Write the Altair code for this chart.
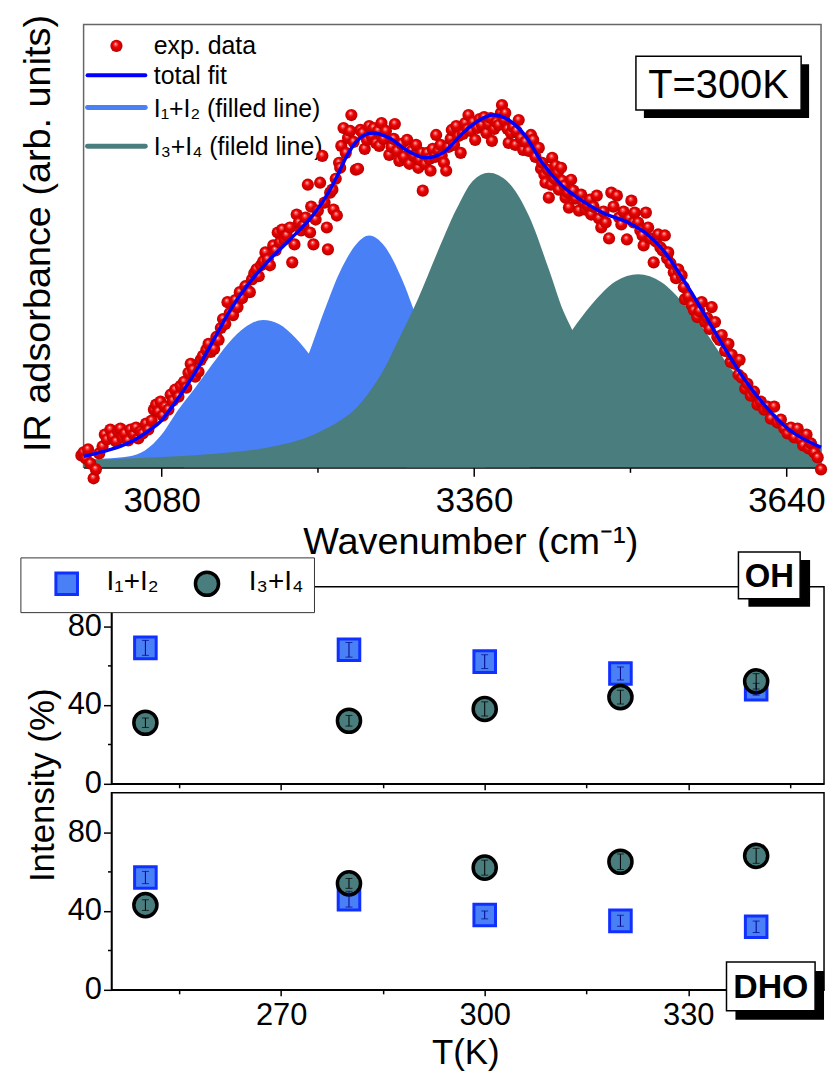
import altair as alt
import pandas as pd

FONT = "Liberation Sans, Arial, Helvetica, sans-serif"

# ---------------- upper panel: OH stretching band at T = 300 K ----------------
# experimental points (wavenumber in cm-1, absorbance in arb. units)
exp_wn = [
    3008, 3010, 3012, 3014, 3016, 3019, 3021, 3024, 3027, 3029,
    3031, 3034, 3036, 3039, 3041, 3043, 3045, 3047, 3050, 3052,
    3055, 3057, 3059, 3061, 3063, 3066, 3068, 3071, 3073, 3075,
    3077, 3079, 3081, 3083, 3086, 3088, 3090, 3092, 3095, 3097,
    3100, 3102, 3104, 3106, 3108, 3110, 3113, 3115, 3117, 3120,
    3122, 3124, 3127, 3129, 3131, 3133, 3135, 3137, 3139, 3141,
    3144, 3146, 3148, 3150, 3152, 3155, 3157, 3159, 3161, 3163,
    3165, 3167, 3169, 3171, 3173, 3175, 3177, 3180, 3182, 3184,
    3186, 3188, 3190, 3192, 3195, 3197, 3199, 3201, 3203, 3205,
    3207, 3209, 3211, 3213, 3214, 3216, 3218, 3220, 3222, 3224,
    3226, 3228, 3229, 3231, 3233, 3234, 3236, 3237, 3239, 3240,
    3241, 3243, 3245, 3247, 3249, 3250, 3252, 3254, 3256, 3258,
    3260, 3262, 3264, 3266, 3268, 3270, 3272, 3274, 3275, 3277,
    3279, 3281, 3284, 3286, 3288, 3289, 3291, 3293, 3295, 3297,
    3300, 3302, 3304, 3306, 3308, 3310, 3311, 3313, 3314, 3316,
    3318, 3320, 3321, 3323, 3325, 3326, 3328, 3330, 3331, 3333,
    3335, 3337, 3339, 3340, 3342, 3344, 3346, 3348, 3350, 3352,
    3354, 3355, 3357, 3359, 3361, 3363, 3365, 3367, 3369, 3371,
    3373, 3375, 3376, 3378, 3380, 3382, 3384, 3385, 3387, 3388,
    3390, 3391, 3393, 3395, 3397, 3398, 3400, 3402, 3404, 3406,
    3409, 3411, 3413, 3415, 3418, 3420, 3421, 3423, 3424, 3426,
    3427, 3429, 3430, 3432, 3433, 3435, 3436, 3438, 3439, 3441,
    3442, 3444, 3445, 3447, 3449, 3451, 3454, 3456, 3458, 3460,
    3462, 3464, 3465, 3467, 3470, 3472, 3474, 3476, 3478, 3481,
    3483, 3485, 3488, 3490, 3492, 3494, 3497, 3499, 3501, 3503,
    3504, 3507, 3509, 3511, 3512, 3514, 3516, 3518, 3521, 3523,
    3525, 3527, 3529, 3531, 3533, 3534, 3536, 3539, 3541, 3543,
    3546, 3548, 3549, 3552, 3555, 3557, 3560, 3562, 3564, 3567,
    3569, 3571, 3573, 3576, 3578, 3580, 3582, 3585, 3588, 3590,
    3591, 3594, 3597, 3598, 3600, 3603, 3605, 3608, 3611, 3614,
    3617, 3620, 3623, 3626, 3629, 3632, 3635, 3638, 3641, 3644,
    3647, 3650, 3653, 3655, 3658, 3660, 3662, 3665, 3668, 3671,
]
exp_abs = [
    12, 15, 9, 18, 4, -11, -2, 14, 21, 33,
    28, 38, 31, 26, 36, 39, 30, 34, 27, 38,
    33, 40, 29, 36, 34, 44, 38, 47, 58, 63,
    56, 66, 52, 61, 58, 73, 67, 78, 71, 82,
    86, 80, 95, 104, 98, 91, 96, 108, 112, 118,
    124, 116, 119, 131, 128, 140, 149, 144, 166, 155,
    153, 168, 161, 176, 170, 182, 178, 176, 189, 195,
    199, 192, 203, 207, 216, 209, 203, 223, 218, 236,
    226, 239, 229, 233, 241, 206, 224, 254, 246, 238,
    243, 251, 284, 236, 262, 224, 249, 258, 286, 313,
    266, 241, 219, 276, 279, 259, 290, 253, 306, 301,
    323, 341, 316, 331, 338, 354, 327, 299, 300, 339,
    336, 320, 329, 343, 333, 341, 326, 338, 323, 346,
    330, 338, 314, 322, 330, 345, 318, 308, 325, 312,
    329, 305, 318, 313, 324, 301, 309, 316, 278, 305,
    316, 310, 298, 320, 312, 334, 318, 324, 313, 306,
    298, 322, 330, 339, 324, 343, 333, 316, 335, 346,
    340, 354, 338, 347, 329, 341, 350, 344, 352, 336,
    345, 351, 328, 340, 347, 344, 356, 364, 349, 356,
    340, 326, 336, 342, 324, 338, 349, 331, 319, 327,
    318, 334, 329, 312, 321, 300, 306, 294, 286, 299,
    271, 284, 311, 290, 303, 296, 279, 301, 288, 283,
    271, 276, 261, 289, 278, 270, 258, 274, 266, 259,
    263, 269, 254, 262, 273, 250, 241, 257, 246, 230,
    276, 262, 273, 251, 244, 257, 229, 250, 268, 246,
    256, 246, 238, 233, 223, 256, 241, 230, 206, 227,
    234, 221, 218, 233, 210, 216, 205, 196, 190, 199,
    193, 181, 169, 172, 163, 158, 151, 157, 166, 146,
    150, 139, 161, 146, 131, 128, 133, 117, 124, 106,
    113, 104, 93, 108, 90, 79, 84, 72, 76, 63,
    66, 58, 61, 49, 61, 45, 48, 39, 34, 40,
    30, 39, 28, 22, 33, 19, 24, 15, 10, -2,
]

# total fitted profile
fit_wn = [3010, 3028, 3045, 3058, 3070, 3079, 3090, 3097, 3112, 3127,
          3142, 3159, 3177, 3195, 3213, 3225, 3237, 3245, 3255, 3269,
          3284, 3299, 3317, 3332, 3350, 3365, 3377, 3391, 3406, 3421,
          3439, 3454, 3475, 3498, 3513, 3531, 3549, 3567, 3585, 3602,
          3620, 3641, 3671]
fit_abs = [11, 16, 22, 29, 38, 46, 62, 73, 99, 129,
           159, 186, 209, 229, 250, 268, 292, 311, 328, 336,
           331, 319, 311, 316, 336, 349, 354, 349, 333, 306,
           283, 270, 256, 246, 236, 216, 186, 153, 119, 89,
           63, 39, 20]

# fitted components I1 and I2 (low-frequency pair)
i1_wn = [3010, 3030, 3050, 3065, 3080, 3095, 3110, 3125, 3140, 3155, 3171,
         3185, 3200, 3215, 3230, 3245, 3260, 3280, 3300, 3330, 3370]
i1_abs = [8, 9, 11, 17, 33, 58, 80, 103, 125, 141, 148,
          144, 130, 110, 88, 67, 48, 30, 18, 10, 8]
i2_wn = [3100, 3130, 3150, 3170, 3185, 3200, 3211, 3225, 3240, 3255,
         3266, 3280, 3295, 3310, 3325, 3340, 3360, 3380, 3410]
i2_abs = [8, 10, 16, 31, 52, 85, 112, 155, 197, 225,
          233, 222, 190, 146, 102, 64, 30, 14, 8]

# fitted components I3 and I4 (high-frequency pair)
i3_wn = [3010, 3050, 3090, 3130, 3150, 3170, 3192, 3210, 3222, 3240,
         3252, 3265, 3280, 3290, 3300, 3310, 3326, 3344, 3359, 3373,
         3391, 3409, 3427, 3440, 3448, 3460, 3475, 3490, 3510, 3540,
         3570, 3671]
i3_abs = [7, 9, 11, 14, 16, 19, 24, 30, 36, 47,
          57, 74, 100, 123, 146, 170, 213, 259, 288, 296,
          286, 253, 199, 157, 138, 105, 70, 45, 25, 12,
          8, 7]
i4_wn = [3300, 3350, 3380, 3400, 3420, 3435, 3448, 3465, 3487, 3507,
         3528, 3549, 3567, 3585, 3602, 3623, 3644, 3671]
i4_abs = [9, 22, 43, 65, 93, 117, 138, 163, 187, 194,
          186, 163, 137, 107, 82, 54, 35, 19]

# ---------------- lower panels: relative intensities vs temperature ----------------
temps = [250, 280, 300, 320, 340]
oh_i12 = [69, 68, 62, 56, 48]
oh_i12_err = [3.8, 3.7, 3.5, 3.3, 3.0]
oh_i34 = [31, 32, 38, 44, 52]
oh_i34_err = [2.4, 2.7, 3.6, 3.5, 3.9]
dho_i12 = [57, 46, 38, 35, 32]
dho_i12_err = [3.1, 4.0, 2.0, 2.8, 2.9]
dho_i34 = [43, 54, 62, 65, 68]
dho_i34_err = [2.7, 2.5, 3.8, 3.9, 3.8]

# ---------------- styling ----------------
BLUE_FILL = "#4a80f5"
TEAL = "#4a7d7d"
FIT_BLUE = "#0000ff"
SQUARE_EDGE = "#1030ff"
DOT_SIZE = 150
SQ_SIZE = 470
CI_SIZE = 540

sphere = alt.RadialGradient(
    gradient="radial", x1=0.42, y1=0.32, r1=0.0, x2=0.5, y2=0.5, r2=0.56,
    stops=[
        alt.GradientStop(offset=0.0, color="#ffffff"),
        alt.GradientStop(offset=0.14, color="#ff6a6a"),
        alt.GradientStop(offset=0.42, color="#e80000"),
        alt.GradientStop(offset=0.8, color="#cc0000"),
        alt.GradientStop(offset=1.0, color="#8c0000"),
    ],
)

one = pd.DataFrame({"k": [0]})


def put_text(txt, x, y, size, weight="normal", align="left", angle=0):
    mk = dict(text=txt, font=FONT, fontSize=size, fontWeight=weight,
              align=align, baseline="alphabetic", color="black")
    if angle:
        mk["angle"] = angle
    return alt.Chart(one).mark_text(**mk).encode(x=alt.value(x), y=alt.value(y))


def put_rect(x0, x1, y0, y1, fill, stroke="black", width=0.0):
    if width > 0:
        mk = alt.Chart(one).mark_rect(fill=fill, stroke=stroke, strokeWidth=width)
    else:
        mk = alt.Chart(one).mark_rect(fill=fill, strokeWidth=0)
    return mk.encode(x=alt.value(x0), x2=alt.value(x1), y=alt.value(y0), y2=alt.value(y1))


def put_swatch(x0, x1, y, color, width):
    return alt.Chart(one).mark_rule(color=color, strokeWidth=width, strokeCap="round").encode(
        x=alt.value(x0), x2=alt.value(x1), y=alt.value(y))


# ---------------- upper panel ----------------
xs_top = alt.Scale(domain=[3010, 3671], nice=False, zero=False)
ys_top = alt.Scale(domain=[0, 445], nice=False, zero=False)
major_top = "datum.value == 3080 || datum.value == 3360 || datum.value == 3640"
x_axis_top = alt.Axis(
    values=[3080, 3220, 3360, 3500, 3640], format="d", title=None, grid=False,
    labelFont=FONT, labelFontSize=35, labelColor="black", labelPadding=7,
    labelFlush=False, labelOverlap=False,
    labelExpr=f"({major_top}) ? datum.label : ''",
    tickSize={"condition": {"test": major_top, "value": 9}, "value": 5},
    tickColor="black", tickWidth=1.5, domainColor="black", domainWidth=2,
)


def xt(field):
    return alt.X(f"{field}:Q", scale=xs_top, axis=x_axis_top)


def yt(field):
    return alt.Y(f"{field}:Q", scale=ys_top, axis=None)


def comp_area(wn, ab, color):
    df = pd.DataFrame({"wn": wn, "a": ab})
    return alt.Chart(df).mark_area(color=color, opacity=1, interpolate="monotone").encode(
        x=xt("wn"), y=yt("a"))


exp_df = pd.DataFrame({"wn": exp_wn, "a": exp_abs})
fit_df = pd.DataFrame({"wn": fit_wn, "a": fit_abs})

dots = alt.Chart(exp_df).mark_point(
    shape="circle", filled=True, size=DOT_SIZE, fill=sphere, opacity=1, strokeWidth=0
).encode(x=xt("wn"), y=yt("a"))
fit_line = alt.Chart(fit_df).mark_line(
    color=FIT_BLUE, strokeWidth=3.5, interpolate="monotone"
).encode(x=xt("wn"), y=yt("a"))

legend_dot = alt.Chart(one).mark_point(
    shape="circle", filled=True, size=DOT_SIZE, fill=sphere, opacity=1, strokeWidth=0
).encode(x=alt.value(33), y=alt.value(21.5))

pin = alt.Chart(one).mark_rule(color="white", strokeWidth=1).encode(
    x=alt.value(-82.5), y=alt.value(-20.5), y2=alt.value(-20))

top = alt.layer(
    pin,
    comp_area(i1_wn, i1_abs, BLUE_FILL),
    comp_area(i2_wn, i2_abs, BLUE_FILL),
    comp_area(i3_wn, i3_abs, TEAL),
    comp_area(i4_wn, i4_abs, TEAL),
    # legend
    legend_dot,
    put_text("exp. data", 70.5, 30, 25),
    put_swatch(4, 62, 51, FIT_BLUE, 4),
    put_text("total fit", 70.5, 60, 25),
    put_swatch(4, 62, 83.5, BLUE_FILL, 5),
    put_text("I\u2081+I\u2082 (filled line)", 70.5, 92.5, 25),
    put_swatch(4, 62, 122.3, TEAL, 5),
    put_text("I\u2083+I\u2084 (fileld line)", 70.5, 131.5, 25),
    # temperature tag
    put_rect(563, 729, 40, 94, "black"),
    put_rect(555, 721, 32, 86, "white", "black", 1.5),
    put_text("T=300K", 638, 74, 40, align="center"),
    # data and fit
    dots,
    fit_line,
    # axis titles
    put_text("IR adsorbance (arb. units)", -34, 210, 38, align="center", angle=270),
    put_text("Wavenumber (cm\u207b\u00b9)", 389, 532, 38, align="center"),
).properties(width=741, height=445, view=alt.ViewBackground(stroke="#666666", strokeWidth=1.5))

# ---------------- lower panels ----------------
xs_bot = alt.Scale(domain=[245, 350], nice=False, zero=False)
ys_bot = alt.Scale(domain=[0, 100], nice=False, zero=False)
major_bx = "datum.value == 270 || datum.value == 300 || datum.value == 330"
major_by = "datum.value == 0 || datum.value == 40 || datum.value == 80"


def x_axis_bot(show_labels):
    kw = dict(values=[255, 270, 285, 300, 315, 330, 345], title=None, grid=False,
              tickColor="black", tickWidth=1.5, domainColor="black", domainWidth=1.5,
              tickSize={"condition": {"test": major_bx, "value": 6}, "value": 4})
    if show_labels:
        kw.update(labelFont=FONT, labelFontSize=31, labelColor="black", labelPadding=5,
                  labelFlush=False, labelOverlap=False,
                  labelExpr=f"({major_bx}) ? datum.label : ''")
    else:
        kw.update(labels=False)
    return alt.Axis(**kw)


y_axis_bot = alt.Axis(
    values=[0, 20, 40, 60, 80], title=None, grid=False,
    labelFont=FONT, labelFontSize=31, labelColor="black", labelPadding=2,
    labelFlush=False, labelOverlap=False,
    labelExpr=f"({major_by}) ? datum.label : ''",
    tickSize={"condition": {"test": major_by, "value": 8}, "value": 4},
    tickColor="black", tickWidth=1.5, domainColor="black", domainWidth=1.5,
)


def panel(i12, e12, i34, e34, show_x_labels, extras):
    xa = x_axis_bot(show_x_labels)

    def xb(field):
        return alt.X(f"{field}:Q", scale=xs_bot, axis=xa)

    def yb(field):
        return alt.Y(f"{field}:Q", scale=ys_bot, axis=y_axis_bot)

    d12 = pd.DataFrame({"T": temps, "v": i12,
                        "lo": [v - e for v, e in zip(i12, e12)],
                        "hi": [v + e for v, e in zip(i12, e12)]})
    d34 = pd.DataFrame({"T": temps, "v": i34,
                        "lo": [v - e for v, e in zip(i34, e34)],
                        "hi": [v + e for v, e in zip(i34, e34)]})

    squares = alt.Chart(d12).mark_point(
        shape="square", filled=True, size=SQ_SIZE, fill=BLUE_FILL, stroke=SQUARE_EDGE,
        strokeWidth=3, opacity=1).encode(x=xb("T"), y=yb("v"))
    circles = alt.Chart(d34).mark_point(
        shape="circle", filled=True, size=CI_SIZE, fill=TEAL, stroke="black",
        strokeWidth=3.5, opacity=1).encode(x=xb("T"), y=yb("v"))

    def errbars(df, color):
        bar = alt.Chart(df).mark_rule(color=color, strokeWidth=1).encode(
            x=xb("T"), y=yb("lo"), y2="hi:Q")
        cap_lo = alt.Chart(df).mark_tick(orient="horizontal", size=7, thickness=1, color=color).encode(
            x=xb("T"), y=yb("lo"))
        cap_hi = alt.Chart(df).mark_tick(orient="horizontal", size=7, thickness=1, color=color).encode(
            x=xb("T"), y=yb("hi"))
        return [bar, cap_lo, cap_hi]

    layers = [squares, circles] + errbars(d12, "#00008b") + errbars(d34, "black") + extras
    return alt.layer(*layers).properties(
        width=716, height=198, view=alt.ViewBackground(stroke="black", strokeWidth=1.5))


legend_square = alt.Chart(one).mark_point(
    shape="square", filled=True, size=SQ_SIZE, fill=BLUE_FILL, stroke=SQUARE_EDGE,
    strokeWidth=3, opacity=1).encode(x=alt.value(-45), y=alt.value(-3))
legend_circle = alt.Chart(one).mark_point(
    shape="circle", filled=True, size=CI_SIZE, fill=TEAL, stroke="black",
    strokeWidth=3.5, opacity=1).encode(x=alt.value(96), y=alt.value(-3))

oh_extras = [
    put_rect(-91, 204, -29, 26, "white", "#333333", 1),
    legend_square,
    put_text("I\u2081+I\u2082", -5, 3, 28),
    legend_circle,
    put_text("I\u2083+I\u2084", 138, 3, 28),
    put_rect(640, 702, -27, 20, "black"),
    put_rect(630, 692, -35, 12, "white", "black", 1.5),
    put_text("OH", 661, 0, 33, weight="bold", align="center"),
    put_text("Intensity (%)", -58, 199.5, 35, align="center", angle=270),
]
dho_extras = [
    put_rect(627, 716, 179, 228, "black"),
    put_rect(618, 707, 170, 219, "white", "black", 1.5),
    put_text("DHO", 662.5, 206, 34, weight="bold", align="center"),
    put_text("T(K)", 356, 273, 35, align="center"),
]

oh = panel(oh_i12, oh_i12_err, oh_i34, oh_i34_err, False, oh_extras)
dho = panel(dho_i12, dho_i12_err, dho_i34, dho_i34_err, True, dho_extras)

spacer = alt.Chart(one).mark_point(opacity=0).encode(
    x=alt.X("k:Q", axis=None), y=alt.Y("k:Q", axis=None)
).properties(width=28, height=10, view=alt.ViewBackground(stroke="transparent"))

bottom = alt.hconcat(
    spacer,
    alt.vconcat(oh, dho, spacing=9, bounds="flush"),
    spacing=0, bounds="flush",
)

chart = alt.vconcat(top, bottom, spacing=120, bounds="flush").properties(
    padding=0
).configure(background="white")

chart.save("out.html", embed_options={"renderer": "svg", "actions": False})
